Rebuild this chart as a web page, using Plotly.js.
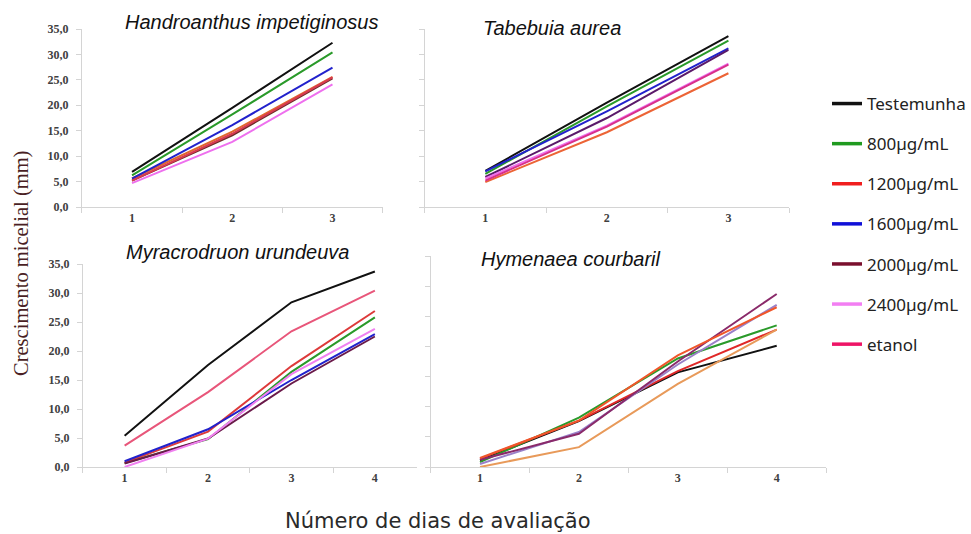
<!DOCTYPE html>
<html>
<head>
<meta charset="utf-8">
<script src="https://cdn.plot.ly/plotly-3.0.1.min.js"></script>
<style>html,body{margin:0;padding:0;background:#fff;}#chart{width:971px;height:534px;}</style>
</head>
<body>
<div id="chart"></div>
<script>
// Series names (legend)
const seriesNames = ["Testemunha", "800µg/mL", "1200µg/mL", "1600µg/mL", "2000µg/mL", "2400µg/mL", "etanol"];

// Days of evaluation (x categories)
const days3 = ["1", "2", "3"];
const days4 = ["1", "2", "3", "4"];

// Y tick values / labels
const yTickVals = [0, 5, 10, 15, 20, 25, 30, 35];
const yTickText = ["0,0", "5,0", "10,0", "15,0", "20,0", "25,0", "30,0", "35,0"];

// Panel titles
const panelTitles = ["Handroanthus impetiginosus", "Tabebuia aurea", "Myracrodruon urundeuva", "Hymenaea courbaril"];

// Values per panel, one row per series (same order as seriesNames)
const handroanthus = [
  [6.9, 19.5, 32.3],
  [6.2, 18.2, 30.4],
  [5.6, 14.8, 25.6],
  [5.6, 16.1, 27.4],
  [5.2, 14.1, 25.3],
  [4.7, 12.8, 24.1],
  [5.2, 14.4, 25.5]
];
const tabebuia = [
  [7.1, 20.5, 33.6],
  [6.5, 19.8, 32.7],
  [4.9, 14.7, 26.3],
  [7.0, 18.8, 31.2],
  [5.9, 17.5, 30.9],
  [5.6, 16.0, 28.2],
  [5.2, 15.8, 28.0]
];
const myracrodruon = [
  [5.4, 17.6, 28.4, 33.7],
  [0.7, 4.8, 16.4, 25.8],
  [0.75, 6.1, 17.4, 26.9],
  [1.0, 6.5, 15.0, 22.9],
  [0.6, 4.9, 14.4, 22.5],
  [0.0, 4.9, 16.0, 23.8],
  [3.7, 12.9, 23.4, 30.4]
];
const hymenaea = [
  [1.1, 7.6, 15.7, 20.1],
  [0.8, 8.2, 18.0, 23.5],
  [1.4, 7.7, 15.9, 22.8],
  [0.5, 5.8, 17.0, 26.9],
  [1.2, 5.5, 17.5, 28.7],
  [0.0, 3.3, 13.8, 22.8],
  [1.5, 7.7, 18.5, 26.5]
];

// Styles
const legendColors = ["#111111", "#1f9a1f", "#f01e1e", "#1010d8", "#7a0f2e", "#f27ef2", "#ee1466"];
const panelColors = [
  ["#111111", "#2a9a2a", "#e0682e", "#2222cc", "#6e2a2a", "#ee70ee", "#d83a50"],
  ["#111111", "#2a9a2a", "#ec6436", "#2222cc", "#5a1a6a", "#ee70ee", "#d8308a"],
  ["#111111", "#2a9a2a", "#dd3a3a", "#2222cc", "#6a1a4a", "#f080f0", "#e8567a"],
  ["#111111", "#2a9a2a", "#e02828", "#9a80c8", "#8a2a6a", "#e89a5a", "#f0562a"]
];

const W = 971, H = 534;
const px = v => v / W;
const py = v => 1 - v / H;

const panels = [
  {data: handroanthus, x: days3, xa: "x", ya: "y", xd: [82, 383], yd: [207, 29], labels: true},
  {data: tabebuia, x: days3, xa: "x2", ya: "y2", xd: [425, 790], yd: [207, 29], labels: false},
  {data: myracrodruon, x: days4, xa: "x3", ya: "y3", xd: [83, 417], yd: [467, 264], labels: true},
  {data: hymenaea, x: days4, xa: "x4", ya: "y4", xd: [431, 827], yd: [467, 256], labels: false}
];

const traces = [];
panels.forEach((p, pi) => {
  p.data.forEach((vals, si) => {
    traces.push({
      type: "scatter", mode: "lines",
      x: p.x, y: vals,
      xaxis: p.xa, yaxis: p.ya,
      name: seriesNames[si],
      legendgroup: "g" + si,
      showlegend: false,
      line: {color: panelColors[pi][si], width: 2}
    });
  });
});
// Legend entries: same data on a hidden axis pair whose range excludes it (clipped away),
// so only the legend swatches with the legend colours are shown.
seriesNames.forEach((n, si) => {
  traces.push({
    type: "scatter", mode: "lines",
    x: days3, y: handroanthus[si],
    xaxis: "x5", yaxis: "y5",
    name: n, legendgroup: "g" + si, showlegend: true,
    line: {color: legendColors[si], width: 3.5}
  });
});

const tickFont = {family: "Liberation Serif, Times New Roman, serif", size: 12, color: "#404040", weight: "bold"};
const axisLine = "#d4d4d4";

const layout = {
  width: W, height: H,
  margin: {l: 0, r: 0, t: 0, b: 0},
  paper_bgcolor: "#ffffff", plot_bgcolor: "rgba(0,0,0,0)",
  showlegend: true,
  legend: {
    x: px(828), y: py(86), xanchor: "left", yanchor: "top",
    font: {family: "Noto Sans, Open Sans, sans-serif", size: 17, color: "#222"},
    tracegroupgap: 15, itemwidth: 30, bgcolor: "rgba(0,0,0,0)",
    traceorder: "grouped", itemclick: false, itemdoubleclick: false
  },
  annotations: [],
  hovermode: false,
  xaxis5: {domain: [px(82), px(383)], anchor: "y5", visible: false, range: [100, 101], fixedrange: true},
  yaxis5: {domain: [py(207), py(29)], anchor: "x5", visible: false, range: [1000, 1001], fixedrange: true}
};

panels.forEach((p, pi) => {
  const sx = pi === 0 ? "" : String(pi + 1);
  layout["xaxis" + sx] = {
    domain: [px(p.xd[0]), px(p.xd[1])],
    anchor: "y" + sx,
    type: "category",
    range: [-0.5, p.x.length - 0.5],
    tickson: "boundaries",
    ticks: "outside", ticklen: 5, tickcolor: axisLine,
    showline: true, linecolor: axisLine, linewidth: 1,
    showgrid: false, zeroline: false,
    tickfont: tickFont,
    fixedrange: true
  };
  layout["yaxis" + sx] = {
    domain: [py(p.yd[0]), py(p.yd[1])],
    anchor: "x" + sx,
    range: [0, 35],
    tickvals: yTickVals, ticktext: yTickText,
    showticklabels: p.labels,
    ticks: "outside", ticklen: 5, tickcolor: axisLine,
    ticklabelstandoff: 5,
    showline: true, linecolor: axisLine, linewidth: 1,
    showgrid: false, zeroline: false,
    tickfont: tickFont,
    fixedrange: true
  };
});

// panel titles
const titlePos = [[252, 22], [553, 28], [238, 252], [572, 259]];
panelTitles.forEach((t, i) => {
  layout.annotations.push({
    text: t, xref: "paper", yref: "paper",
    x: px(titlePos[i][0]), y: py(titlePos[i][1]),
    xanchor: "center", yanchor: "middle", showarrow: false,
    font: {family: "Liberation Sans, Arial, sans-serif", size: 20, color: "#111", style: "italic"}
  });
});
// axis titles
layout.annotations.push({
  text: "Crescimento micelial (mm)", xref: "paper", yref: "paper",
  x: px(21), y: py(263), xanchor: "center", yanchor: "middle", textangle: -90,
  showarrow: false,
  font: {family: "Liberation Serif, Times New Roman, serif", size: 20.5, color: "#4a1f24"}
});
layout.annotations.push({
  text: "Número de dias de avaliação", xref: "paper", yref: "paper",
  x: px(438), y: py(521), xanchor: "center", yanchor: "middle",
  showarrow: false,
  font: {family: "DejaVu Sans, sans-serif", size: 21, color: "#2a2a2a"}
});

Plotly.newPlot("chart", traces, layout, {displayModeBar: false, staticPlot: true});
</script>
</body>
</html>
